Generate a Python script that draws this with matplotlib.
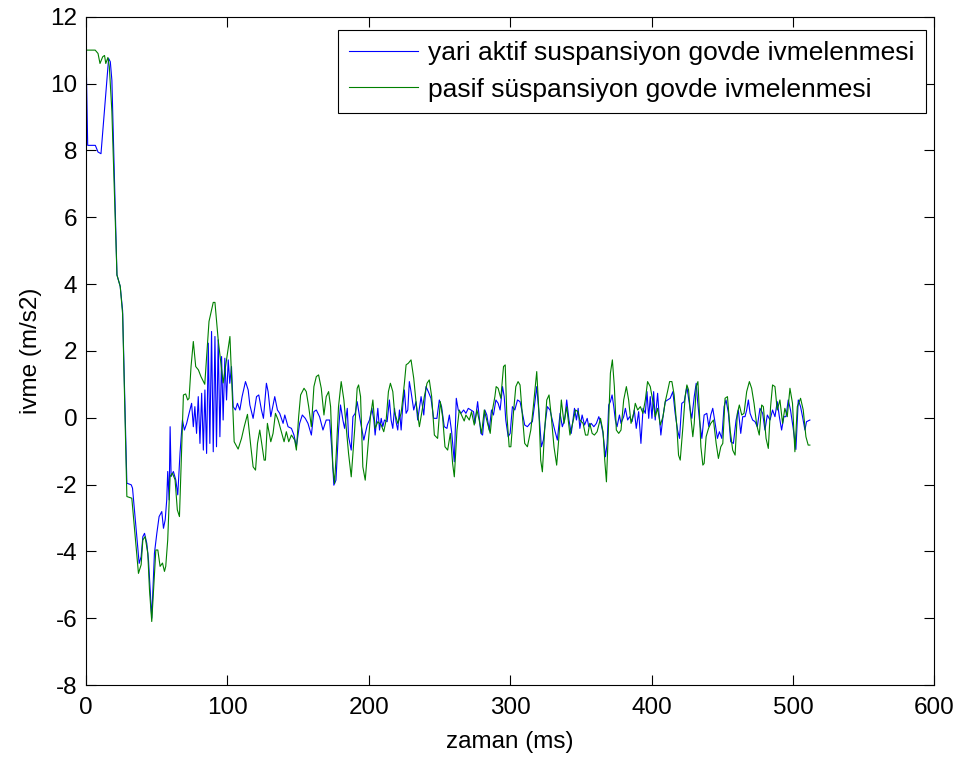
import numpy as np
import matplotlib.pyplot as plt

# yari aktif suspansiyon (blue)
blue_t = [0, 1.2, 6.6, 8.5, 10.6, 16.0, 17.2, 18.3, 21.9, 24.2, 25.9, 28.9, 32.0, 32.9,
          37.6, 39.0, 40.2, 41.4, 43.0, 44.2, 46.5, 48.4, 50.1, 51.7, 53.6, 54.8, 56.0,
          57.1, 57.8, 58.8, 59.5, 60.2, 61.8, 63.5, 64.9, 66.5, 68.2, 69.6, 71.2, 72.9,
          74.7, 75.9, 77.0, 78.2, 79.4, 80.6, 81.8, 83.0, 84.1, 85.3, 86.5, 87.6, 88.8,
          90.0, 91.2, 92.3, 93.5, 94.7, 95.9, 97.0, 98.2, 99.4, 100.6, 101.7, 102.9,
          104.1, 105.7, 107.1, 108.8, 110.4, 112.8, 114.7, 115.9, 118.2, 120.6, 122.2,
          124.1, 125.5, 127.6, 128.8, 130.7, 133.5, 135.4, 137.0, 139.4, 140.6, 142.9,
          145.3, 147.1, 148.8, 151.1, 153.0, 155.1, 157.0, 159.4, 161.2, 162.9, 165.2,
          167.6, 169.9, 172.3, 173.9, 175.3, 176.8, 178.6, 180.0, 181.7, 182.9, 184.8,
          185.7, 187.6, 188.8, 190.4, 191.8, 193.5, 196.5, 198.9, 200.5, 202.2, 203.6,
          204.5, 206.4, 207.6, 208.8, 209.9, 211.1, 213.0, 214.6, 215.8, 217.0, 218.2,
          219.3, 220.5, 221.7, 222.9, 224.0, 225.2, 226.4, 227.6, 228.7, 229.9, 231.8,
          233.4, 234.6, 237.0, 238.9, 240.5, 242.1, 244.0, 245.9, 248.2, 249.9, 251.5,
          253.4, 255.3, 257.0, 258.6, 260.5, 261.9, 263.3, 265.2, 267.1, 268.7, 270.4,
          272.3, 274.1, 275.1, 277.0, 278.1, 279.3, 280.5, 282.1, 283.5, 285.2, 286.8,
          288.2, 289.9, 291.5, 292.9, 294.6, 295.8, 296.9, 298.6, 300.0, 301.6, 303.3,
          305.2, 307.0, 308.7, 310.3, 312.2, 314.1, 315.7, 317.4, 318.8, 320.4, 322.1,
          323.5, 325.1, 326.3, 328.2, 329.8, 331.5, 333.4, 335.3, 336.9, 338.5, 340.0,
          341.6, 343.2, 345.5, 346.9, 348.1, 349.3, 350.9, 352.6, 354.5, 355.6, 357.3,
          359.2, 361.0, 362.7, 364.3, 365.7, 367.4, 368.6, 369.7, 370.9, 372.1, 373.3,
          374.4, 375.6, 377.3, 378.4, 380.3, 381.5, 383.1, 384.5, 386.2, 387.8, 389.2,
          390.9, 392.5, 394.0, 395.6, 396.8, 398.0, 399.1, 400.3, 401.5, 402.6, 404.3,
          405.2, 406.6, 408.1, 409.7, 411.3, 413.2, 415.1, 416.7, 418.4, 419.8, 421.4,
          423.1, 425.0, 427.4, 428.5, 430.2, 431.6, 432.5, 433.9, 435.6, 437.2, 439.1,
          440.5, 441.9, 443.3, 445.0, 446.6, 448.0, 449.7, 451.3, 452.7, 454.4, 456.0,
          457.9, 459.8, 461.4, 463.1, 464.5, 466.1, 467.3, 468.5, 469.7, 471.5, 473.2,
          474.8, 476.7, 478.6, 480.2, 481.9, 483.8, 485.6, 487.3, 488.9, 490.4, 492.0,
          493.6, 495.1, 496.7, 498.3, 500.2, 502.1, 503.8, 505.4, 506.8, 508.5, 509.6,
          512.0]
blue_a = [11.0, 8.15, 8.15, 7.95, 7.9, 10.75, 10.65, 10.1, 4.27, 3.93, 3.2, -1.96, -2.01, -2.11,
          -4.36, -4.16, -3.56, -3.46, -3.76, -4.26, -6.0, -4.06, -3.46, -2.96, -2.81, -3.31, -3.06,
          -2.46, -1.61, -2.46, -0.27, -1.76, -1.61, -1.86, -2.31, -1.06, -0.07, -0.37, -0.17, 0.13,
          0.43, -0.27, 0.33, -0.47, 0.63, -0.77, 0.73, -0.97, 0.83, -1.07, 2.23, -0.77, 2.58,
          -1.02, 2.43, -0.87, 2.33, -0.57, 1.83, -0.07, 1.78, 0.53, 1.73, 1.03, 1.53,
          0.33, 0.23, 0.43, 0.23, 0.63, 1.08, 0.83, 0.38, -0.02, 0.63, 0.68,
          0.23, -0.02, 1.03, 0.78, 0.03, 0.63, 0.23, 0.13, -0.17, 0.08, -0.27,
          -0.32, -0.52, -0.87, -0.17, 0.08, -0.02, -0.17, -0.52, 0.18, 0.23, 0.03,
          -0.37, -0.07, -0.07, -0.97, -2.02, -1.87, -0.37, 0.38, -0.07, -0.32, 0.28,
          -0.57, -0.97, 0.03, 0.13, 0.48, 0.03, -0.67, -0.22, -0.07, 0.28, -0.07,
          -0.52, 0.28, -0.37, -0.02, -0.27, -0.07, -0.12, 0.53, -0.07, -0.32, 0.28,
          -0.12, -0.37, 0.23, -0.37, 0.33, 0.83, 0.13, 0.23, 1.08, 0.78, 0.23,
          0.48, -0.07, 0.63, 0.08, 0.93, 0.78, 0.58, -0.02, -0.02, 0.53, 0.33,
          -0.27, -0.32, 0.08, -0.42, -1.32, 0.58, 0.23, 0.13, 0.23, 0.13, 0.28,
          0.23, 0.18, -0.17, 0.48, 0.03, -0.47, -0.52, 0.23, 0.08, -0.37, 0.23,
          0.08, 0.53, 0.43, 0.23, 0.93, 0.63, -0.07, -0.57, -0.47, 0.33, 0.23,
          0.53, 0.48, 0.13, -0.22, -0.27, -0.17, -0.12, 0.43, 0.93, 0.13, -0.87,
          -0.67, -0.07, 0.33, 0.23, -0.07, -0.37, -0.67, 0.13, -0.27, -0.07, 0.53,
          -0.07, -0.47, 0.28, -0.07, 0.28, -0.32, 0.08, -0.22, -0.02, -0.27, -0.17,
          -0.27, -0.17, 0.03, -0.17, -0.47, -1.17, -0.77, 0.38, 0.48, 0.68, 0.33,
          -0.07, -0.27, 0.08, -0.17, 0.03, 0.28, -0.07, 0.03, -0.12, 0.23, -0.32,
          0.18, -0.77, 0.28, 0.13, 0.78, -0.02, 0.63, -0.02, 0.78, -0.07, 0.73,
          0.18, -0.52, 0.03, 0.48, 0.53, 0.58, 0.78, 0.13, -0.37, -0.62, 0.43,
          0.48, 0.93, 0.23, -0.02, 0.63, 1.03, 0.53, -0.07, -0.62, 0.08, 0.13,
          -0.27, 0.08, 0.28, -0.17, -0.62, -0.42, -0.62, 0.33, 0.53, 0.13, -0.72,
          -0.77, -0.07, 0.23, -0.47, 0.03, 0.03, 0.23, 0.53, 0.13, -0.07, -0.12,
          -0.27, 0.28, 0.13, -0.37, 0.08, -0.07, 0.23, 0.03, 0.48, 0.03, -0.37,
          0.03, 0.03, 0.53, 0.23, -0.32, -0.95, 0.53, 0.33, 0.03, -0.37, -0.12,
          -0.07]

# pasif suspansiyon (green)
green_t = [0, 6.5, 8.5, 9.9, 11.8, 13.1, 14.0, 15.5, 16.5, 18.3, 21.9, 24.2, 25.9, 28.9,
           32.4, 37.1, 39.0, 40.2, 41.8, 43.7, 44.9, 46.5, 48.4, 49.4, 50.8, 52.4, 54.1,
           55.5, 56.4, 57.8, 59.5, 61.1, 63.0, 64.6, 66.1, 68.9, 70.5, 71.9, 72.9, 74.3,
           75.9, 77.6, 79.5, 81.3, 84.0, 87.0, 90.0, 91.2, 93.5, 97.0, 101.8, 104.8,
           107.6, 110.0, 111.9, 114.2, 116.6, 118.2, 119.9, 121.3, 122.9, 124.6, 126.0,
           126.9, 128.3, 130.7, 132.3, 134.0, 135.9, 138.2, 140.1, 141.7, 143.4, 145.3,
           147.6, 148.8, 150.4, 151.8, 154.2, 155.8, 157.5, 159.4, 161.2, 162.9, 164.5,
           166.4, 168.3, 169.9, 171.6, 173.0, 174.6, 175.8, 177.0, 178.6, 180.5, 182.4,
           184.0, 185.7, 187.6, 190.0, 191.8, 192.8, 194.2, 195.8, 197.5, 199.4, 201.2,
           202.9, 204.5, 206.4, 208.8, 210.6, 212.3, 213.9, 215.3, 217.0, 218.2, 220.5,
           222.9, 225.2, 226.4, 228.0, 229.9, 231.8, 233.4, 235.8, 237.4, 239.3, 241.2,
           242.8, 244.5, 246.4, 248.7, 250.6, 252.2, 253.9, 255.8, 257.7, 259.3, 260.5,
           262.4, 264.0, 265.9, 267.5, 268.7, 271.1, 272.7, 274.6, 276.5, 278.1, 279.8,
           281.7, 284.0, 285.9, 287.5, 289.2, 290.1, 291.5, 293.4, 295.3, 296.5, 297.6,
           299.3, 300.5, 302.3, 304.0, 305.6, 307.0, 308.7, 310.3, 312.2, 314.6, 316.4,
           318.8, 320.4, 321.6, 322.8, 324.4, 325.9, 327.5, 329.1, 331.0, 332.9, 334.5,
           336.2, 338.1, 340.0, 342.3, 344.7, 346.2, 348.0, 349.3, 351.6, 353.3, 354.9,
           356.3, 358.0, 359.6, 361.5, 363.9, 365.7, 366.9, 368.1, 369.3, 370.9, 372.3,
           373.7, 375.1, 376.8, 378.4, 380.3, 382.2, 383.8, 385.5, 387.4, 388.5, 390.2,
           392.1, 393.9, 395.6, 397.2, 399.1, 401.0, 402.6, 404.3, 406.2, 408.1, 409.7,
           411.3, 412.8, 414.4, 416.0, 417.9, 419.1, 420.3, 422.2, 423.8, 425.0, 426.2,
           427.4, 429.2, 430.2, 431.6, 432.8, 433.9, 434.9, 436.3, 437.2, 438.6, 440.3,
           441.9, 443.8, 445.7, 447.3, 449.0, 450.4, 452.0, 453.7, 455.6, 457.4, 459.1,
           460.7, 462.1, 463.8, 465.4, 467.3, 469.2, 470.8, 472.5, 474.4, 476.2, 477.9,
           479.1, 481.0, 482.6, 484.2, 485.6, 487.3, 488.9, 490.8, 492.7, 494.3, 496.0,
           497.9, 499.7, 501.4, 503.1, 505.4, 507.3, 509.2, 510.8, 512.0]
green_a = [11.0, 11.0, 10.9, 10.6, 10.8, 10.84, 10.6, 10.78, 10.5, 9.17, 4.27, 3.93, 3.1, -2.36,
           -2.41, -4.66, -4.4, -3.66, -3.56, -4.06, -5.15, -6.1, -4.66, -3.96, -3.96, -4.45, -4.35,
           -4.6, -4.45, -3.66, -1.76, -1.66, -1.86, -2.76, -2.96, 0.68, 0.71, 0.53, 0.58, 1.53,
           2.28, 1.53, 1.43, 1.23, 1.0, 2.88, 3.45, 3.45, 2.33, 1.04, 2.43, -0.72,
           -0.94, -0.62, -0.27, 0.1, -0.87, -1.47, -1.57, -0.77, -0.37, -0.87, -1.27,
           -1.27, -0.17, -0.72, -0.47, 0.13, -0.07, -0.42, -0.72, -0.42, -0.72, -0.52,
           -0.67, -0.97, 0.03, 0.68, 0.88, 0.78, 0.33, -0.27, 0.93, 1.23, 1.28,
           0.88, 0.08, 0.63, 0.78, 0.33, -1.47, -1.97, -1.07, 0.33, 1.08, 0.53,
           -0.27, -1.07, -1.77, -0.37, 0.88, 0.98, 0.63, -1.47, -1.87, -0.87, 0.03,
           0.53, -0.32, -0.12, -0.22, -0.42, -0.07, 0.78, 1.03, 0.78, 0.18, -0.17,
           0.13, 1.03, 1.58, 1.63, 1.73, 1.18, 0.48, -0.27, 0.13, 0.63, 1.03,
           1.13, 0.63, -0.52, -0.62, 0.48, 0.03, -0.87, -0.97, -0.47, -1.37, -1.77,
           -0.37, 0.23, 0.05, -0.1, 0.08, -0.07, 0.18, -0.22, 0.23, -0.07, -0.47,
           0.23, -0.17, -0.47, 0.23, 0.63, 0.93, 0.88, 0.58, 1.53, 1.58, 0.13,
           -0.87, -0.87, 0.13, 0.93, 1.08, 0.98, 0.03, -0.77, -0.87, -0.37, 0.33,
           1.38, 0.13, -1.27, -1.62, -0.37, 0.53, 0.68, 0.03, -0.87, -1.42, -0.57,
           0.53, -0.17, 0.33, -0.52, -0.07, 0.23, 0.18, -0.07, -0.17, -0.52, -0.52,
           -0.17, -0.47, -0.52, -0.42, -0.02, -0.42, -1.27, -1.92, -0.57, 1.33, 1.73,
           0.93, -0.37, -0.47, -0.37, 0.53, 0.93, 0.53, -0.17, 0.13, 0.43, 0.23,
           0.33, 0.13, 0.53, 1.08, 0.93, 0.48, 0.03, 0.28, -0.22, 0.03, 0.48,
           0.78, 1.08, 1.08, 0.68, -0.27, -1.12, -1.27, -0.27, 0.63, 0.98, 0.83,
           0.18, -0.57, -0.17, 0.93, 1.08, 0.13, -0.87, -1.42, -1.37, -0.57, -0.32,
           -0.17, -0.07, -0.77, -1.22, -0.87, -0.77, 0.58, 0.63, -0.37, -0.97, -1.12,
           0.13, 0.38, 0.08, 0.13, 0.78, 1.08, 0.88, 0.43, -0.22, -0.52, 0.38,
           0.33, -0.62, -0.92, 0.33, 0.98, 0.93, 0.23, 0.53, -0.17, 0.28, 0.03,
           0.88, 0.43, -1.02, 0.33, 0.58, 0.23, -0.57, -0.82, -0.82]

legend_labels = ['yari aktif suspansiyon govde ivmelenmesi',
                 'pasif süspansiyon govde ivmelenmesi']

plt.rcParams['font.family'] = ['Liberation Sans', 'DejaVu Sans']
plt.rcParams['axes.unicode_minus'] = False
fs = 17.5

fig = plt.figure(figsize=(9.63, 7.59), dpi=100)
ax = fig.add_axes([86 / 963, 74 / 759, 848.3 / 963, 668.3 / 759])

ax.plot(blue_t, blue_a, color=(0, 0, 1), lw=0.8, label=legend_labels[0])
ax.plot(green_t, green_a, color=(0, 0.5, 0), lw=0.8, label=legend_labels[1])

ax.set_xlim(0, 600)
ax.set_ylim(-8, 12)
ax.set_xticks(np.arange(0, 601, 100))
ax.set_yticks(np.arange(-8, 13, 2))
ax.tick_params(direction='in', top=True, right=True, length=7, width=0.8,
               labelsize=fs)
ax.tick_params(axis='x', pad=8.4)
ax.tick_params(axis='y', pad=6.3)
for sp in ax.spines.values():
    sp.set_linewidth(0.8)

ax.set_xlabel('zaman (ms)', fontsize=fs, labelpad=9)
ax.set_ylabel('ivme (m/s2)', fontsize=fs, labelpad=6)

leg = ax.legend(loc='upper right', bbox_to_anchor=(0.990, 0.980),
                borderaxespad=0, fancybox=False, edgecolor='black',
                framealpha=1, fontsize=19, handlelength=2.6,
                handletextpad=0.4, labelspacing=0.47, borderpad=0.42)
leg.get_frame().set_linewidth(0.8)

fig.savefig('out.png', dpi=100)
